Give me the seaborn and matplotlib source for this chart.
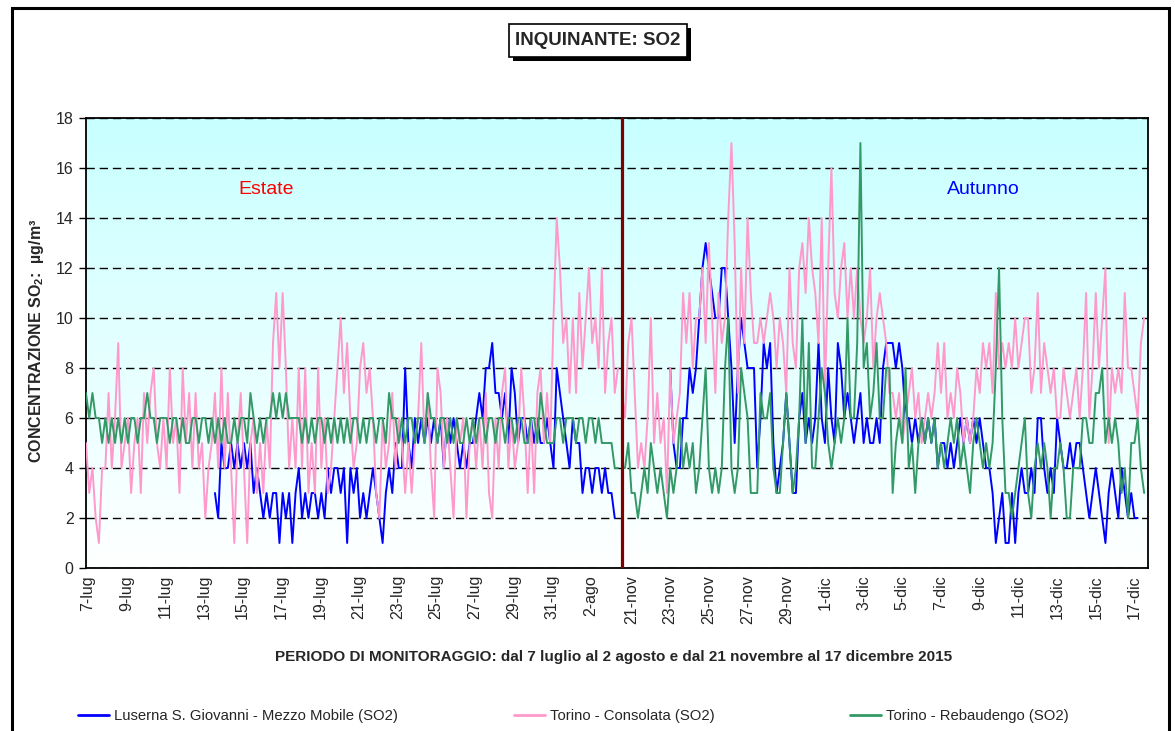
import numpy as np
import pandas as pd
import matplotlib
matplotlib.use("Agg")
import matplotlib.pyplot as plt
from matplotlib.colors import LinearSegmentedColormap
from matplotlib.lines import Line2D
from matplotlib.patches import Rectangle
import seaborn as sns

nan = np.nan

# SO2 (ug/m3), one value every 4 h -> one row per day
# summer block: 7 luglio -> 3 agosto
luserna_lug = [
    nan, nan, nan, nan, nan, nan,
    nan, nan, nan, nan, nan, nan,
    nan, nan, nan, nan, nan, nan,
    nan, nan, nan, nan, nan, nan,
    nan, nan, nan, nan, nan, nan,
    nan, nan, nan, nan, nan, nan,
    nan, nan, nan, nan, 3, 2,
    5, 4, 4, 5, 4, 5,
    4, 5, 4, 5, 3, 4,
    3, 2, 3, 2, 3, 3,
    1, 3, 2, 3, 1, 3,
    4, 2, 3, 2, 3, 3,
    2, 3, 2, 4, 3, 4,
    4, 3, 4, 1, 4, 3,
    4, 2, 3, 2, 3, 4,
    3, 2, 1, 3, 4, 3,
    5, 4, 4, 8, 5, 4,
    6, 5, 6, 5, 6, 5,
    6, 5, 6, 4, 6, 5,
    6, 5, 4, 5, 4, 5,
    5, 6, 7, 6, 8, 8,
    9, 7, 7, 6, 7, 5,
    8, 7, 5, 6, 6, 5,
    6, 5, 6, 5, 5, 6,
    5, 4, 8, 7, 6, 5,
    4, 6, 5, 5, 3, 4,
    4, 3, 4, 4, 3, 4,
    3, 3, 2, nan,
]
consolata_lug = [
    5, 3, 4, 2, 1, 4,
    4, 7, 4, 6, 9, 4,
    5, 6, 3, 5, 6, 3,
    7, 5, 7, 8, 5, 4,
    6, 4, 8, 5, 6, 3,
    8, 5, 7, 4, 7, 4,
    5, 2, 4, 5, 7, 4,
    8, 4, 7, 4, 1, 5,
    7, 4, 1, 5, 6, 3,
    5, 3, 6, 4, 9, 11,
    8, 11, 8, 4, 6, 4,
    8, 4, 8, 3, 5, 3,
    8, 4, 6, 3, 4, 6,
    8, 10, 7, 9, 6, 4,
    5, 8, 9, 7, 8, 6,
    3, 2, 6, 4, 5, 7,
    4, 6, 5, 3, 5, 3,
    5, 6, 9, 5, 7, 4,
    2, 8, 7, 4, 6, 4,
    2, 6, 5, 6, 2, 5,
    6, 4, 6, 4, 7, 3,
    2, 6, 4, 7, 8, 4,
    6, 4, 5, 8, 6, 3,
    6, 3, 7, 8, 5, 7,
    5, 10, 14, 12, 9, 10,
    7, 10, 7, 11, 8, 10,
    12, 9, 10, 8, 12, 7,
    9, 10, 7, 8,
]
rebaudengo_lug = [
    7, 6, 7, 6, 6, 5,
    6, 5, 6, 5, 6, 5,
    6, 5, 6, 6, 5, 6,
    6, 7, 6, 6, 5, 6,
    6, 6, 5, 6, 6, 5,
    6, 5, 5, 6, 6, 5,
    6, 6, 5, 6, 5, 6,
    5, 6, 5, 5, 6, 5,
    6, 6, 5, 7, 6, 5,
    6, 5, 6, 6, 7, 6,
    7, 6, 7, 6, 6, 6,
    6, 5, 6, 5, 6, 5,
    6, 6, 5, 6, 5, 6,
    5, 6, 5, 6, 5, 6,
    6, 5, 6, 5, 6, 6,
    5, 6, 6, 5, 7, 6,
    6, 5, 6, 5, 6, 6,
    5, 6, 6, 5, 7, 6,
    6, 5, 6, 6, 5, 6,
    5, 6, 5, 5, 6, 5,
    6, 5, 6, 6, 5, 6,
    6, 5, 6, 6, 5, 6,
    6, 5, 6, 6, 5, 5,
    6, 6, 5, 7, 6, 5,
    5, 5, 6, 6, 5, 6,
    6, 6, 5, 6, 6, 5,
    6, 6, 5, 6, 5, 5,
    5, 5, 4, 4,
]

# autumn block: 21 novembre -> 17 dicembre
luserna_nov = [
    nan, nan, nan, nan, nan, nan,
    nan, nan, nan, nan, nan, nan,
    nan, nan, nan, 8, 5, 4,
    4, 6, 6, 8, 7, 8,
    10, 12, 13, 12, 11, 10,
    10, 12, 12, 10, 8, 5,
    8, 10, 9, 8, 8, 8,
    4, 6, 9, 8, 9, 5,
    3, 4, 5, 7, 5, 3,
    3, 6, 7, 5, 6, 5,
    6, 9, 6, 5, 8, 6,
    5, 9, 8, 6, 7, 6,
    5, 6, 7, 5, 6, 5,
    5, 6, 5, 8, 9, 9,
    9, 8, 9, 8, 6, 6,
    5, 6, 5, 6, 5, 6,
    5, 6, 4, 5, 5, 4,
    5, 4, 5, 6, 5, 6,
    5, 6, 5, 6, 5, 4,
    4, 3, 1, 2, 3, 1,
    1, 3, 1, 3, 4, 3,
    3, 4, 3, 6, 6, 4,
    3, 4, 3, 6, 5, 4,
    4, 5, 4, 5, 5, 4,
    3, 2, 3, 4, 3, 2,
    1, 3, 4, 3, 2, 4,
    3, 2, 3, 2, 2, nan,
    nan,
]
consolata_nov = [
    7, 6, 9, 10, 7, 4,
    5, 4, 6, 10, 5, 7,
    5, 6, 3, 8, 5, 6,
    7, 11, 9, 11, 8, 10,
    10, 12, 9, 13, 10, 7,
    11, 9, 10, 14, 17, 13,
    7, 12, 9, 14, 11, 9,
    9, 10, 9, 10, 11, 10,
    8, 10, 9, 7, 12, 9,
    8, 12, 13, 11, 14, 12,
    11, 9, 14, 7, 12, 16,
    11, 10, 12, 13, 10, 12,
    10, 12, 10, 9, 10, 12,
    8, 10, 11, 10, 9, 7,
    7, 6, 7, 5, 6, 7,
    8, 6, 7, 5, 6, 7,
    6, 7, 9, 7, 9, 6,
    7, 6, 8, 7, 5, 6,
    5, 6, 8, 7, 9, 8,
    9, 7, 11, 8, 9, 8,
    9, 8, 10, 8, 9, 10,
    10, 7, 8, 11, 7, 9,
    8, 7, 8, 6, 6, 8,
    7, 6, 7, 8, 6, 8,
    11, 6, 8, 11, 8, 10,
    12, 5, 8, 7, 8, 7,
    11, 8, 8, 7, 6, 9,
    10,
]
rebaudengo_nov = [
    4, 4, 5, 3, 3, 2,
    3, 4, 3, 5, 4, 3,
    4, 3, 2, 4, 3, 4,
    6, 4, 5, 4, 5, 3,
    4, 6, 8, 4, 3, 4,
    3, 4, 8, 10, 4, 3,
    4, 8, 7, 6, 3, 3,
    3, 7, 6, 6, 7, 4,
    3, 3, 5, 7, 5, 3,
    4, 6, 10, 5, 9, 4,
    4, 6, 8, 7, 5, 4,
    5, 6, 5, 6, 10, 6,
    6, 9, 17, 8, 9, 6,
    7, 9, 6, 6, 8, 8,
    3, 5, 6, 5, 8, 4,
    5, 3, 5, 6, 5, 6,
    5, 6, 4, 5, 4, 5,
    6, 5, 6, 4, 5, 4,
    3, 5, 6, 5, 4, 5,
    4, 5, 8, 12, 6, 3,
    3, 2, 3, 4, 5, 6,
    3, 2, 4, 5, 4, 5,
    4, 2, 4, 4, 5, 4,
    2, 2, 4, 4, 4, 6,
    6, 5, 5, 7, 7, 8,
    5, 6, 5, 6, 5, 3,
    4, 2, 5, 5, 6, 4,
    3,
]

lug_labels = ["7-lug", "9-lug", "11-lug", "13-lug", "15-lug", "17-lug", "19-lug",
              "21-lug", "23-lug", "25-lug", "27-lug", "29-lug", "31-lug", "2-ago"]
nov_labels = ["21-nov", "23-nov", "25-nov", "27-nov", "29-nov", "1-dic", "3-dic",
              "5-dic", "7-dic", "9-dic", "11-dic", "13-dic", "15-dic", "17-dic"]

stations = ["Luserna S. Giovanni - Mezzo Mobile (SO2)",
            "Torino - Consolata (SO2)",
            "Torino - Rebaudengo (SO2)"]
colors = ["#0000FF", "#FF99CC", "#339966"]

sns.set_theme(style="white")
plt.rcParams["font.family"] = ["Liberation Sans", "DejaVu Sans"]
plt.rcParams["mathtext.fontset"] = "custom"
plt.rcParams["mathtext.rm"] = "Liberation Sans"
plt.rcParams["mathtext.bf"] = "Liberation Sans:bold"

per_day = 6
nov_start = 27.7   # the november block starts right after the divider
x_end = 54.9

rows = []
for name, lug, nov in zip(stations,
                          [luserna_lug, consolata_lug, rebaudengo_lug],
                          [luserna_nov, consolata_nov, rebaudengo_nov]):
    for i, v in enumerate(lug):
        rows.append((name, "estate", i / per_day, v))
    for i, v in enumerate(nov):
        rows.append((name, "autunno", nov_start + i / per_day, v))
df = pd.DataFrame(rows, columns=["stazione", "periodo", "x", "so2"]).dropna()

fig = plt.figure(figsize=(11.75, 7.31), dpi=100)
ax = fig.add_axes([86 / 1175, 1 - 568 / 731, 1062 / 1175, 450 / 731])

# cyan -> white background of the plot area
bg = LinearSegmentedColormap.from_list("bg", ["#C8FFFF", "#FFFFFF"])
ax.imshow(np.linspace(0, 1, 256)[:, None], cmap=bg, aspect="auto",
          extent=(0, x_end, 0, 18), zorder=0)

sns.lineplot(data=df, x="x", y="so2", hue="stazione", units="periodo",
             estimator=None, sort=False, hue_order=stations,
             palette=dict(zip(stations, colors)), lw=1.4, legend=False,
             ax=ax, zorder=3)

ax.axvline(nov_start, color="#800000", lw=2.3, zorder=4)

ax.set_xlim(0, x_end)
ax.set_ylim(0, 18)
ax.set_yticks(range(0, 19, 2))
lug_ticks = [0.1 + 2 * k for k in range(len(lug_labels))]
nov_ticks = [nov_start + 0.5 + 2 * k for k in range(len(nov_labels))]
ax.set_xticks(lug_ticks + nov_ticks)
ax.set_xticklabels(lug_labels + nov_labels, rotation=90, fontsize=11.5)
ax.tick_params(axis="y", labelsize=11.5, left=True, length=5, width=1,
               color="black", pad=4)
ax.tick_params(axis="x", length=0, pad=5)
ax.set_xlabel("")
ax.set_ylabel("")
ax.yaxis.grid(True, color="black", lw=1, linestyle=(0, (6, 3.5)))
ax.xaxis.grid(False)
for s in ax.spines.values():
    s.set_color("black")
    s.set_linewidth(1.3)

ax.text(0.17, 0.84, "Estate", transform=ax.transAxes, color="red",
        fontsize=14, ha="center", va="center")
ax.text(0.845, 0.84, "Autunno", transform=ax.transAxes, color="blue",
        fontsize=14, ha="center", va="center")

# title box with a drop shadow
bw, bh = 178 / 1175, 33 / 731
fig.add_artist(Rectangle((513 / 1175, 1 - 61 / 731), bw, bh, transform=fig.transFigure,
                         fc="black", ec="black", lw=0))
fig.add_artist(Rectangle((509 / 1175, 1 - 57 / 731), bw, bh, transform=fig.transFigure,
                         fc="white", ec="black", lw=1.2))
fig.text(598 / 1175, 1 - 40.5 / 731, "INQUINANTE: SO2", ha="center", va="center",
         fontsize=13.5, fontweight="bold")

fig.text(37 / 1175, 1 - 341 / 731, r"CONCENTRAZIONE SO$_{\mathbf{2}}$:  µg/m³",
         rotation=90, ha="center", va="center", fontsize=11.5, fontweight="bold")
fig.text(614 / 1175, 1 - 657 / 731,
         "PERIODO DI MONITORAGGIO: dal 7 luglio al 2 agosto e dal 21 novembre al 17 dicembre 2015",
         ha="center", va="center", fontsize=11, fontweight="bold")

for name, c, xpx in zip(stations, colors, [78, 514, 850]):
    fig.legend(handles=[Line2D([], [], color=c, lw=2)], labels=[name],
               loc="center left", bbox_to_anchor=(xpx / 1175, 1 - 716 / 731),
               frameon=False, fontsize=10.7, handlelength=2.1,
               handletextpad=0.3, borderpad=0, borderaxespad=0)

# outer chart frame (bottom edge runs off the picture)
fig.add_artist(Rectangle((12 / 1175, -0.05), 1157 / 1175, 1.05 - 8 / 731,
                         transform=fig.transFigure, fill=False, ec="black", lw=2.2))

fig.savefig("out.png", dpi=100)
